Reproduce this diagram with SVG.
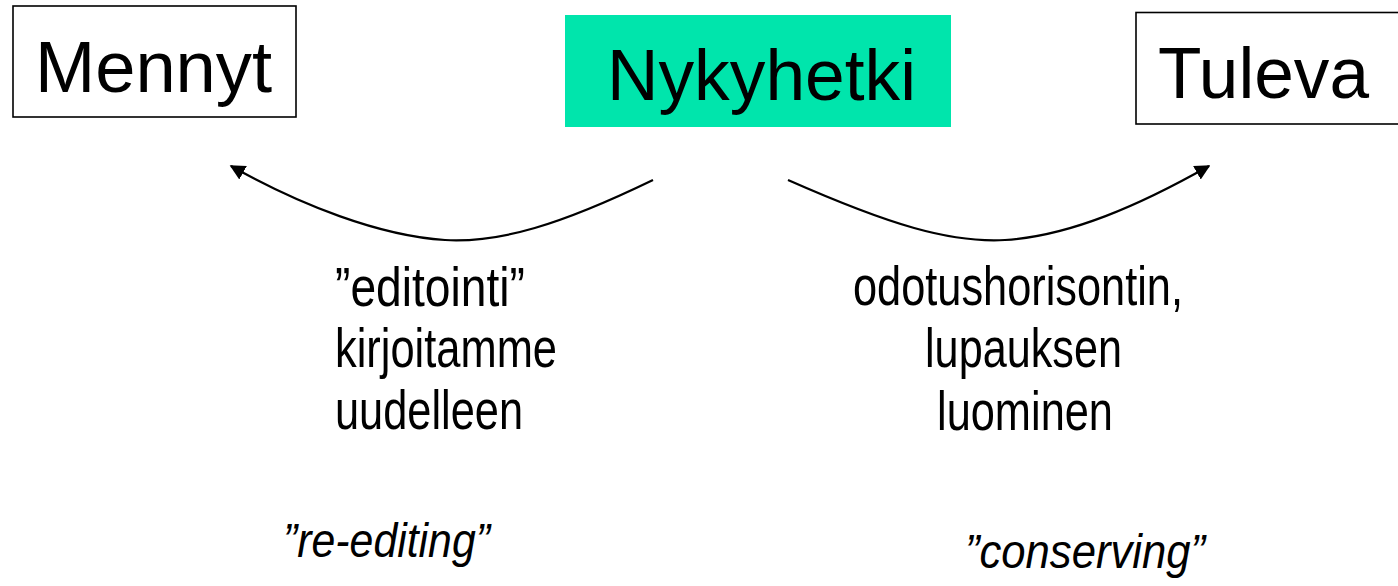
<svg xmlns="http://www.w3.org/2000/svg" width="1398" height="586" viewBox="0 0 1398 586">
<style>
.box{fill:#fff;stroke:#000;stroke-width:1.6}
.title{font-family:"Liberation Sans",Arial,sans-serif;font-size:72px;fill:#000}
.body{font-family:"Liberation Sans",Arial,sans-serif;font-size:55px;fill:#000}
.ital{font-family:"Liberation Sans",Arial,sans-serif;font-size:48px;font-style:italic;fill:#000}
.conn{fill:none;stroke:#000;stroke-width:2.2}
</style>
<defs>
<marker id="ah" viewBox="0 0 10 10" refX="9" refY="5" markerWidth="7" markerHeight="7" markerUnits="strokeWidth" orient="auto">
<path d="M0,0 L10,5 L0,10 z" fill="#000"/>
</marker>
</defs>
<rect width="1398" height="586" fill="#fff"/>
<g id="mennyt">
<rect class="box" x="13" y="6" width="283" height="111"/>
<text class="title" x="35" y="91.5" textLength="237" lengthAdjust="spacingAndGlyphs">Mennyt</text>
</g>
<g id="nykyhetki">
<rect x="565" y="15" width="386" height="112" fill="#00E5AC"/>
<text class="title" x="607" y="100" textLength="309" lengthAdjust="spacingAndGlyphs">Nykyhetki</text>
</g>
<g id="tuleva">
<rect class="box" x="1136" y="12.5" width="270" height="111.5"/>
<text class="title" x="1158" y="98" textLength="211" lengthAdjust="spacingAndGlyphs">Tuleva</text>
</g>
<g id="connectors">
<path class="conn" d="M653,180 C560,225 500,243 445,240 C380,236 300,205 231,166" marker-end="url(#ah)"/>
<path class="conn" d="M788,180 C890,225 950,243 1005,240 C1070,236 1140,205 1209,166" marker-end="url(#ah)"/>
</g>
<g id="label-left">
<text class="body" x="335" y="306" textLength="190" lengthAdjust="spacingAndGlyphs">”editointi”</text>
<text class="body" x="335" y="367" textLength="222" lengthAdjust="spacingAndGlyphs">kirjoitamme</text>
<text class="body" x="335" y="429" textLength="188" lengthAdjust="spacingAndGlyphs">uudelleen</text>
</g>
<g id="label-right">
<text class="body" x="853" y="305" textLength="330" lengthAdjust="spacingAndGlyphs">odotushorisontin,</text>
<text class="body" x="925" y="367" textLength="197" lengthAdjust="spacingAndGlyphs">lupauksen</text>
<text class="body" x="937" y="430" textLength="176" lengthAdjust="spacingAndGlyphs">luominen</text>
</g>
<g id="italic-left">
<text class="ital" x="283" y="557" textLength="207" lengthAdjust="spacingAndGlyphs">”re-editing”</text>
</g>
<g id="italic-right">
<text class="ital" x="965" y="568" textLength="240" lengthAdjust="spacingAndGlyphs">”conserving”</text>
</g>
</svg>
